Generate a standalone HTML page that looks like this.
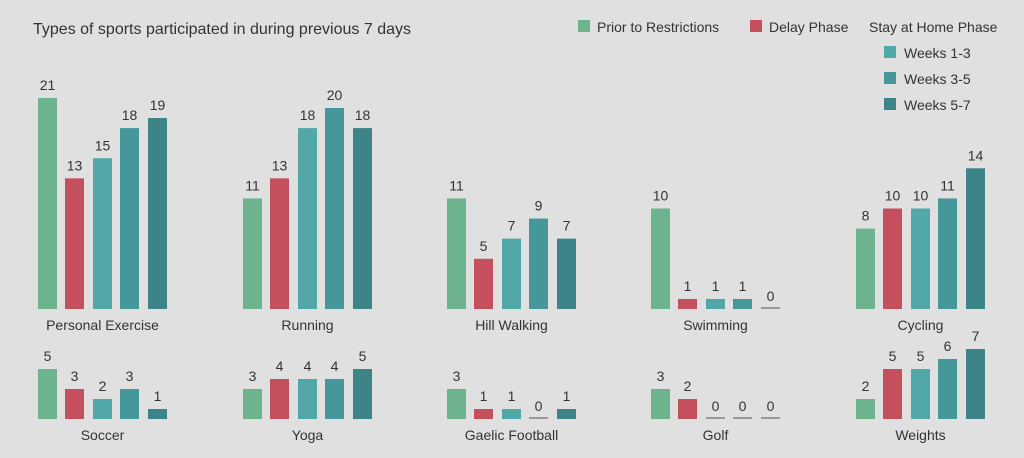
<!DOCTYPE html>
<html><head><meta charset="utf-8"><style>
html,body{margin:0;padding:0;background:#e0e0e0;}
svg{display:block;font-family:"Liberation Sans",sans-serif;}
</style></head><body>
<svg id="s" width="1024" height="458" xmlns="http://www.w3.org/2000/svg">
<rect width="1024" height="458" fill="#e0e0e0"/>
<text x="33" y="34" font-size="16" fill="#333">Types of sports participated in during previous 7 days</text>
<rect x="578" y="20" width="12" height="12" fill="#6db38e"/>
<text x="597" y="32" font-size="14" fill="#333">Prior to Restrictions</text>
<rect x="750" y="20" width="12" height="12" fill="#c4505e"/>
<text x="769" y="32" font-size="14" fill="#333">Delay Phase</text>
<text x="869" y="32" font-size="14" fill="#333">Stay at Home Phase</text>
<rect x="884" y="46" width="12" height="12" fill="#52a8a8"/>
<text x="904" y="58" font-size="14" fill="#333">Weeks 1-3</text>
<rect x="884" y="72" width="12" height="12" fill="#459799"/>
<text x="904" y="84" font-size="14" fill="#333">Weeks 3-5</text>
<rect x="884" y="98" width="12" height="12" fill="#3d8488"/>
<text x="904" y="110" font-size="14" fill="#333">Weeks 5-7</text>
</svg>
<script>
var s=document.getElementById('s'),NS='http://www.w3.org/2000/svg';
var cols=['#6db38e','#c4505e','#52a8a8','#459799','#3d8488'];
var G=[38,243,447,651,856],off=[0,27,55,82,110];
var rows=[{b:309,k:10.05,names:['Personal Exercise','Running','Hill Walking','Swimming','Cycling'],
v:[[21,13,15,18,19],[11,13,18,20,18],[11,5,7,9,7],[10,1,1,1,0],[8,10,10,11,14]]},
{b:419,k:10,names:['Soccer','Yoga','Gaelic Football','Golf','Weights'],
v:[[5,3,2,3,1],[3,4,4,4,5],[3,1,1,0,1],[3,2,0,0,0],[2,5,5,6,7]]}];
function el(t,a,txt){var e=document.createElementNS(NS,t);for(var k in a)e.setAttribute(k,a[k]);if(txt!=null)e.textContent=txt;s.appendChild(e);}
rows.forEach(function(r){
 for(var g=0;g<5;g++){
  for(var i=0;i<5;i++){
   var v=r.v[g][i],x=G[g]+off[i],h=v*r.k;
   if(v==0){el('rect',{x:x,y:r.b-2,width:19,height:2,fill:'#999'});}
   else el('rect',{x:x,y:r.b-h,width:19,height:h,fill:cols[i]});
   el('text',{x:x+9.5,y:r.b-h-8,'font-size':14,fill:'#333','text-anchor':'middle'},v);
  }
  el('text',{x:G[g]+64.5,y:r.b+21,'font-size':14,fill:'#333','text-anchor':'middle'},r.names[g]);
 }
});
</script>
</body></html>
